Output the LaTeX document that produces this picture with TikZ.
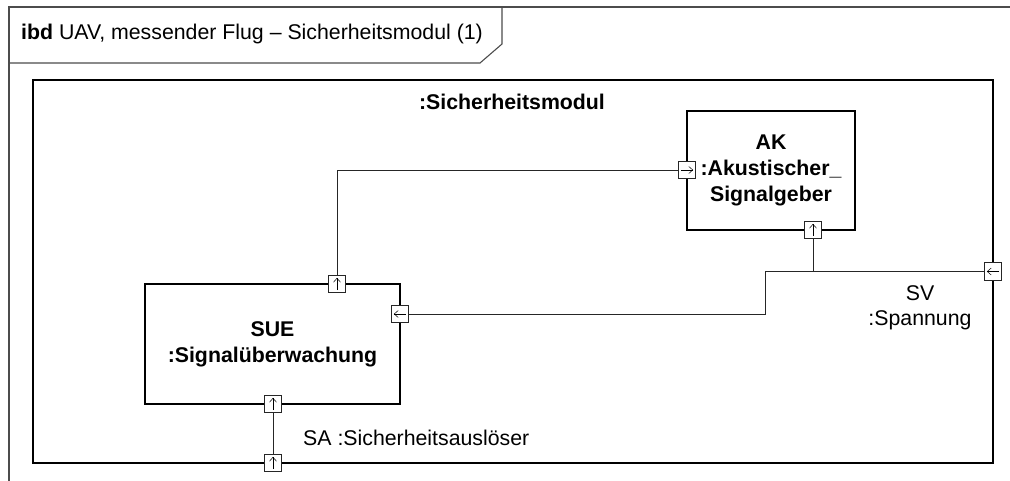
\documentclass[tikz,border=0pt]{standalone}
\usepackage{fontspec}
\setmainfont{Liberation Sans}
\usetikzlibrary{calc,arrows.meta}
\tikzset{
  frameline/.style={draw=black!70, line width=1.1pt},
  blockline/.style={draw=black, line width=1.2pt},
  partbox/.style={draw=black, line width=1.2pt, fill=white, minimum width=#1, inner sep=0pt, align=center, font=\fontsize{21.3}{26}\selectfont\bfseries},
  port/.style={draw=black!85, line width=0.8pt, fill=white, minimum size=17.5pt, inner sep=0pt},
  conn/.style={draw=black!85, line width=0.9pt},
  parrow/.style={draw=black, line width=0.5pt, -{Straight Barb[length=4pt,width=7pt]}},
  lbl/.style={font=\fontsize{21.3}{25.5}\selectfont, inner sep=0pt, align=center},
}
\begin{document}
\begin{tikzpicture}[x=1pt,y=-1pt]
\useasboundingbox (0,0) rectangle (1010,481);
% outer diagram frame
\draw[frameline] (9,481) -- (9,7) -- (1010,7);
\draw[frameline] (9,63) -- (480,63) -- (502,44) -- (502,7);
\node[lbl, anchor=west] (hdr) at (21,34) {\textbf{ibd} UAV, messender Flug – Sicherheitsmodul (1)};
% inner block
\draw[blockline] (33,80) rectangle (993,463);
\node[lbl, font=\fontsize{21.3}{26}\selectfont\bfseries] (sm) at (512,102) {:Sicherheitsmodul};
% parts
\node[partbox, minimum width=168pt, minimum height=119pt] (ak) at (771,170.5) {AK\\:Akustischer\_\\Signalgeber};
\node[partbox, minimum width=255pt, minimum height=120pt] (sue) at (272.5,344) {SUE\\:Signalüberwachung};
% ports
\node[port] (akL) at (687,170) {};
\node[port] (akB) at (813,230) {};
\node[port] (sv)  at (993,271.5) {};
\node[port] (sueT) at (337,284) {};
\node[port] (sueR) at (400,314) {};
\node[port] (sueB) at (273,404) {};
\node[port] (sa)  at (273,463) {};
% port arrows
\draw[parrow] ($(akL.west)+(3,0)$) -- ($(akL.east)+(-3,0)$);
\draw[parrow] ($(akB.south)+(0,-3)$) -- ($(akB.north)+(0,3)$);
\draw[parrow] ($(sv.east)+(-3,0)$) -- ($(sv.west)+(3,0)$);
\draw[parrow] ($(sueT.south)+(0,-3)$) -- ($(sueT.north)+(0,3)$);
\draw[parrow] ($(sueR.east)+(-3,0)$) -- ($(sueR.west)+(3,0)$);
\draw[parrow] ($(sueB.south)+(0,-3)$) -- ($(sueB.north)+(0,3)$);
\draw[parrow] ($(sa.south)+(0,-3)$) -- ($(sa.north)+(0,3)$);
% connectors
\coordinate (bend) at (765,271.5);
\draw[conn] (sueT.north) |- (akL.west);
\draw[conn] (sv.west) -- (bend) |- (sueR.east);
\draw[conn] (akB.south) -- (akB.south |- sv.west);
\draw[conn] (sueB.south) -- (sa.north);
% labels
\node[lbl] (svl) at (920,308) {SV\\:Spannung};
\node[lbl, anchor=west] (sal) at (303,438) {SA :Sicherheitsauslöser};
\end{tikzpicture}
\end{document}
